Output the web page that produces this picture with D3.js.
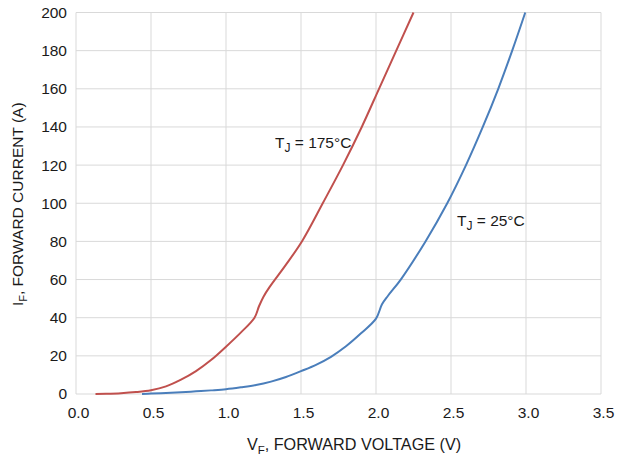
<!DOCTYPE html>
<html>
<head>
<meta charset="utf-8">
<script src="https://cdn.jsdelivr.net/npm/d3@7"></script>
<style>
  html, body { margin: 0; padding: 0; background: #fff; }
  svg { display: block; font-family: "Liberation Sans", Arial, Helvetica, sans-serif; }
</style>
</head>
<body>
<svg id="chart" width="626" height="456"></svg>
<script>
// ---- Data ----
const xTicks = [0.0, 0.5, 1.0, 1.5, 2.0, 2.5, 3.0, 3.5];
const yTicks = [0, 20, 40, 60, 80, 100, 120, 140, 160, 180, 200];

// T_J = 175°C
const hotV = [0.13, 0.2, 0.3, 0.4, 0.5, 0.6, 0.7, 0.8, 0.9, 1.0, 1.1, 1.19, 1.22, 1.25, 1.29, 1.4, 1.51, 1.645, 1.78, 1.905, 2.02, 2.135, 2.25];
const hotI = [0, 0.1, 0.4, 1.0, 2.0, 4.0, 7.5, 12.0, 17.8, 24.8, 32.3, 40, 46, 51, 56, 67.8, 80.5, 100, 120, 140, 160, 180, 200];

// T_J = 25°C
const coldV = [0.44, 0.5, 0.6, 0.7, 0.8, 0.9, 1.0, 1.1, 1.2, 1.3, 1.4, 1.5, 1.6, 1.7, 1.8, 1.9, 2.0, 2.04, 2.08, 2.165, 2.33, 2.475, 2.6, 2.712, 2.815, 2.908, 2.995];
const coldI = [0, 0.2, 0.5, 0.9, 1.4, 1.9, 2.5, 3.5, 4.7, 6.5, 8.9, 12, 15.3, 19.5, 25, 31.8, 39.5, 47, 51.5, 60, 80, 100, 120, 140, 160, 180, 200];

// ---- Layout ----
const svg = d3.select("#chart");
const x = d3.scaleLinear().domain([0, 3.5]).range([76, 601]);
const y = d3.scaleLinear().domain([0, 200]).range([394, 12.5]);

const gridColor = "#d9d9d9";
const textColor = "#1a1a1a";
const fs = 15.5;

// Gridlines
svg.append("g").selectAll("line").data(xTicks).join("line")
  .attr("x1", d => x(d)).attr("x2", d => x(d))
  .attr("y1", y(0)).attr("y2", y(200))
  .attr("stroke", gridColor).attr("stroke-width", 1);
svg.append("g").selectAll("line").data(yTicks).join("line")
  .attr("x1", x(0)).attr("x2", x(3.5))
  .attr("y1", d => y(d)).attr("y2", d => y(d))
  .attr("stroke", gridColor).attr("stroke-width", 1);

// Axes tick labels via d3 axes (no domain/tick lines)
const xAxis = d3.axisBottom(x).tickValues(xTicks).tickFormat(d3.format(".1f")).tickSize(0).tickPadding(13);
const gx = svg.append("g").attr("transform", `translate(2,${y(0)})`).call(xAxis);
gx.select(".domain").remove();
gx.selectAll("text").attr("font-size", fs).attr("fill", textColor).attr("font-family", "Liberation Sans, Arial, sans-serif");

const yAxis = d3.axisLeft(y).tickValues(yTicks).tickFormat(d3.format("d")).tickSize(0).tickPadding(9);
const gy = svg.append("g").attr("transform", `translate(${x(0)},0)`).call(yAxis);
gy.select(".domain").remove();
gy.selectAll("text").attr("font-size", fs).attr("fill", textColor).attr("font-family", "Liberation Sans, Arial, sans-serif");

// Curves
const line = d3.line().x(d => x(d[0])).y(d => y(d[1])).curve(d3.curveCatmullRom.alpha(0.5));
const hot = hotV.map((v, i) => [v, hotI[i]]);
const cold = coldV.map((v, i) => [v, coldI[i]]);

svg.append("path").datum(hot).attr("d", line)
  .attr("fill", "none").attr("stroke", "#c0504d").attr("stroke-width", 2);
svg.append("path").datum(cold).attr("d", line)
  .attr("fill", "none").attr("stroke", "#4a7ebb").attr("stroke-width", 2);

// Curve labels
function label(xp, yp, rest) {
  const t = svg.append("text").attr("x", xp).attr("y", yp)
    .attr("font-size", fs).attr("fill", textColor);
  t.append("tspan").text("T");
  t.append("tspan").attr("font-size", 12).attr("dy", 4).text("J");
  t.append("tspan").attr("dy", -4).text(rest);
}
label(275, 148, " = 175°C");
label(457, 226, " = 25°C");

// X axis title
const xt = svg.append("text").attr("x", 354).attr("y", 450).attr("text-anchor", "middle")
  .attr("font-size", 16.2).attr("fill", textColor);
xt.append("tspan").text("V");
xt.append("tspan").attr("font-size", 11.5).attr("dy", 4).text("F");
xt.append("tspan").attr("dy", -4).text(", FORWARD VOLTAGE (V)");

// Y axis title
const yt = svg.append("text").attr("transform", `translate(23,${(y(0) + y(200)) / 2 + 1}) rotate(-90)`)
  .attr("text-anchor", "middle").attr("font-size", fs).attr("fill", textColor);
yt.append("tspan").text("I");
yt.append("tspan").attr("font-size", 11).attr("dy", 4).text("F");
yt.append("tspan").attr("dy", -4).text(", FORWARD CURRENT (A)");
</script>
</body>
</html>
